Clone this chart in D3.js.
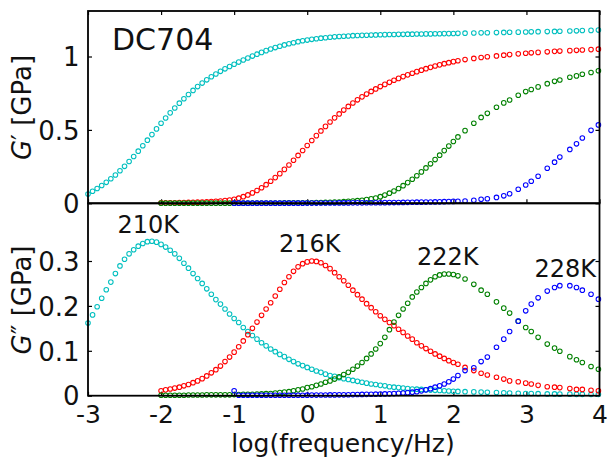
<!DOCTYPE html>
<html><head><meta charset="utf-8">
<script src="https://cdn.jsdelivr.net/npm/d3@7/dist/d3.min.js"></script>
<style>
html,body{margin:0;padding:0;background:#fff;}
svg text{font-family:"DejaVu Sans",sans-serif;fill:#111;}
</style></head>
<body><svg id="c" width="608" height="458"></svg>
<script>
// ---- data ----
const logFreq = [-3,-2.9375,-2.875,-2.8125,-2.75,-2.6875,-2.625,-2.5625,-2.5,-2.4375,-2.375,-2.3125,-2.25,-2.1875,-2.125,-2.0625,
-2,-1.9375,-1.875,-1.8125,-1.75,-1.6875,-1.625,-1.5625,-1.5,-1.4375,-1.375,-1.3125,-1.25,-1.1875,-1.125,-1.0625,
-1,-0.9375,-0.875,-0.8125,-0.75,-0.6875,-0.625,-0.5625,-0.5,-0.4375,-0.375,-0.3125,-0.25,-0.1875,-0.125,-0.0625,
0,0.0625,0.125,0.1875,0.25,0.3125,0.375,0.4375,0.5,0.5625,0.625,0.6875,0.75,0.8125,0.875,0.9375,
1,1.0625,1.125,1.1875,1.25,1.3125,1.375,1.4375,1.5,1.5625,1.625,1.6875,1.75,1.8125,1.875,1.9375,
2,2.0625,2.16,2.28,2.38,2.465,2.59,2.69,2.77,2.888,2.99,3.066,3.16,3.285,3.385,3.457,3.594,3.685,3.765,3.884,3.985];

const temperatures = ["210K","216K","222K","228K"];
const firstIndex = [0,16,16,32];

// G' [GPa]
const gp210 = [0.063,0.082,0.101,0.121,0.143,0.167,0.193,0.222,0.252,0.285,0.319,0.355,0.392,0.430,0.468,0.507,0.545,0.581,0.616,0.649,0.682,0.712,0.741,0.769,0.795,0.819,0.841,0.862,0.881,0.899,0.916,0.932,0.947,
0.962,0.976,0.990,1.003,1.016,1.028,1.040,1.051,1.061,1.070,1.079,1.087,1.094,1.101,1.107,1.112,1.117,1.121,1.125,1.128,1.131,1.134,1.136,1.138,1.140,1.142,1.143,1.144,1.145,1.146,1.147,1.148,1.149,
1.150,1.150,1.151,1.151,1.152,1.152,1.153,1.153,1.154,1.154,1.155,1.155,1.156,1.156,1.157,1.158,
1.159,1.160,1.161,1.162,1.163,1.164,1.165,1.166,1.167,1.168,1.169,1.170,1.171,1.172,1.174,1.175,1.177,1.178,1.180];
const gp216 = [0.003,0.003,0.004,0.004,0.005,0.005,0.006,0.007,0.008,0.009,0.010,0.012,0.014,0.016,0.019,0.022,
0.027,0.035,0.045,0.057,0.071,0.087,0.106,0.127,0.150,0.175,0.202,0.231,0.261,0.293,0.326,0.360,0.394,
0.428,0.461,0.493,0.524,0.554,0.582,0.609,0.635,
0.660,0.683,0.705,0.725,0.744,0.762,0.779,0.795,0.810,0.824,0.838,0.851,0.863,0.875,0.886,0.897,0.907,0.917,0.926,0.935,0.943,0.951,0.958,0.965,0.971,
0.979,0.987,0.993,0.998,1.004,1.009,1.013,1.018,1.022,1.025,1.028,1.032,1.035,1.037,1.040,1.042,1.044,1.047,1.050];
const gp222 = [0.001,0.001,0.001,0.001,0.001,0.001,0.001,0.001,0.001,0.001,0.001,0.001,0.001,0.001,0.001,0.001,
0.001,0.001,0.001,0.001,0.002,0.002,0.002,0.002,0.002,0.002,0.002,0.003,0.003,0.003,0.003,0.003,0.004,
0.004,0.005,0.005,0.006,0.007,0.008,0.009,0.011,
0.013,0.015,0.018,0.021,0.025,0.030,0.036,0.045,0.056,0.069,0.084,0.101,0.120,0.141,0.164,0.188,0.214,0.241,0.269,0.298,0.328,0.359,0.390,0.421,0.452,
0.495,0.545,0.585,0.613,0.654,0.684,0.704,0.736,0.761,0.775,0.793,0.815,0.831,0.840,0.859,0.868,0.879,0.891,0.903];
const gp228 = [0.001,0.001,0.001,0.001,0.001,0.001,0.001,0.001,0.001,0.001,0.001,0.001,0.001,0.001,0.001,0.001,0.0015,
0.0015,0.0015,0.002,0.002,0.002,0.002,0.0025,0.0025,
0.0025,0.003,0.003,0.003,0.0035,0.0035,0.004,0.004,0.0045,0.005,0.005,0.0055,0.006,0.0065,0.007,0.0075,0.008,0.0085,0.009,0.0095,0.010,0.011,0.012,0.013,0.014,
0.016,0.021,0.027,0.031,0.040,0.051,0.065,0.096,0.125,0.150,0.184,0.239,0.280,0.315,0.367,0.405,0.445,0.497,0.534];

// G'' [GPa]
const gpp210 = [0.162,0.180,0.198,0.217,0.236,0.253,0.272,0.289,0.304,0.316,0.325,0.333,0.339,0.343,0.344,0.342,0.337,0.331,0.324,0.316,0.306,0.295,0.284,0.272,0.261,0.250,0.238,0.226,0.214,0.204,0.193,0.182,0.172,0.163,
0.152,0.143,0.134,0.126,0.118,0.111,0.104,0.098,0.092,0.087,0.081,0.076,0.071,0.067,0.063,0.059,0.055,0.052,0.048,0.045,0.043,0.040,0.038,0.036,0.034,0.032,0.030,0.028,0.026,0.025,0.023,0.022,0.020,
0.019,0.018,0.017,0.016,0.015,0.0145,0.014,0.013,0.0125,0.012,0.0115,0.011,0.0105,0.010,0.0095,
0.009,0.0085,0.008,0.0075,0.007,0.0065,0.006,0.0055,0.005,0.005,0.0045,0.004,0.004,0.0035,0.0035,0.003,0.003,0.003,0.003];
const gpp216 = [0.011,0.013,0.015,0.017,0.019,0.022,0.025,0.029,0.033,0.038,0.044,0.051,0.058,0.066,0.076,0.086,
0.097,0.109,0.122,0.136,0.150,0.164,0.179,0.193,0.207,0.222,0.237,0.252,0.265,0.277,0.287,0.294,0.298,
0.300,0.299,0.296,0.290,0.283,0.274,0.265,0.256,
0.246,0.235,0.225,0.215,0.205,0.196,0.187,0.178,0.170,0.163,0.156,0.148,0.141,0.133,0.126,0.118,0.111,0.105,0.099,0.093,0.088,0.083,0.078,0.074,0.070,
0.063,0.056,0.050,0.046,0.041,0.037,0.033,0.031,0.028,0.026,0.023,0.020,0.019,0.018,0.016,0.014,0.014,0.012,0.011];
const gpp222 = [0.001,0.001,0.001,0.001,0.001,0.001,0.0015,0.0015,0.0015,0.0015,0.002,0.002,0.002,0.002,0.002,0.002,
0.0025,0.0025,0.003,0.003,0.003,0.0035,0.004,0.0045,0.005,0.006,0.007,0.008,0.009,0.011,0.013,0.015,0.018,
0.020,0.023,0.026,0.030,0.033,0.037,0.042,0.047,
0.052,0.059,0.066,0.074,0.083,0.093,0.104,0.116,0.130,0.147,0.164,0.179,0.193,0.206,0.220,0.231,0.241,0.250,0.258,0.265,0.269,0.271,0.271,0.270,0.267,
0.260,0.248,0.235,0.226,0.209,0.195,0.184,0.166,0.152,0.143,0.130,0.115,0.106,0.099,0.087,0.080,0.074,0.065,0.059];
const gpp228 = [0.011,0.001,0.001,0.001,0.001,0.001,0.001,0.001,0.001,0.001,0.001,0.001,0.001,0.001,0.001,0.001,0.0012,
0.0013,0.0014,0.0015,0.0016,0.0017,0.0018,0.0019,0.002,
0.0022,0.0024,0.0026,0.0028,0.003,0.0032,0.0034,0.0036,0.0039,0.0042,0.0047,0.0053,0.006,0.0068,0.0078,0.009,0.0108,0.013,0.0157,0.019,0.022,0.026,0.031,0.037,0.045,
0.056,0.062,0.076,0.086,0.108,0.126,0.143,0.166,0.189,0.204,0.218,0.233,0.241,0.245,0.245,0.241,0.235,0.226,0.215];

const xTicks = [-3,-2,-1,0,1,2,3,4];
const xTickLabels = ["-3","-2","-1","0","1","2","3","4"];
const yTopTicks = [0,0.5,1];
const yTopTickLabels = ["0","0.5","1"];
const yBotTicks = [0,0.1,0.2,0.3];
const yBotTickLabels = ["0","0.1","0.2","0.3"];
const colors = ["#00bfbf","#ff0000","#008000","#0000ff"];

// ---- drawing ----
const svg = d3.select("#c");
const L = 88, R = 599.5, T1 = 11, B1 = 203.3, B2 = 395.7;
const x = d3.scaleLinear().domain([-3,4]).range([L,R]);
const yTop = d3.scaleLinear().domain([0,1.31]).range([B1,T1]);
const yBot = d3.scaleLinear().domain([0,0.4285]).range([B2,B1]);

function ticksFor(g, axis){ g.call(axis); g.select(".domain").remove(); g.selectAll("line").attr("stroke","#000").attr("stroke-width",1.2); }

// top panel axes
const tt = svg.append("g").attr("transform",`translate(0,${B1})`);
ticksFor(tt, d3.axisBottom(x).tickValues(xTicks).tickSize(-4).tickFormat(""));
const tt2 = svg.append("g").attr("transform",`translate(0,${T1})`);
ticksFor(tt2, d3.axisTop(x).tickValues(xTicks).tickSize(-4).tickFormat(""));
const tl = svg.append("g").attr("transform",`translate(${L},0)`);
ticksFor(tl, d3.axisLeft(yTop).tickValues(yTopTicks).tickSize(-4).tickFormat((d,i)=>yTopTickLabels[i]));
const tr = svg.append("g").attr("transform",`translate(${R},0)`);
ticksFor(tr, d3.axisRight(yTop).tickValues(yTopTicks).tickSize(-4).tickFormat(""));

// bottom panel axes
const bb = svg.append("g").attr("transform",`translate(0,${B2})`);
ticksFor(bb, d3.axisBottom(x).tickValues(xTicks).tickSize(-4).tickFormat((d,i)=>xTickLabels[i]));
const bl = svg.append("g").attr("transform",`translate(${L},0)`);
ticksFor(bl, d3.axisLeft(yBot).tickValues(yBotTicks).tickSize(-4).tickFormat((d,i)=>yBotTickLabels[i]));
const br = svg.append("g").attr("transform",`translate(${R},0)`);
ticksFor(br, d3.axisRight(yBot).tickValues(yBotTicks).tickSize(-4).tickFormat(""));

svg.selectAll("g text").attr("font-family","DejaVu Sans").attr("font-size",26).attr("fill","#222");
[tl,bl].forEach(g=>g.selectAll("text").attr("x",-8.5).attr("dy",null).attr("dominant-baseline",null)
  .attr("y",9.2));
bb.selectAll("text").attr("y",27.3).attr("dy",null).attr("font-size",25);

// data markers
function drawPanel(arrs, y){
  arrs.forEach((vals,k)=>{
    const pts = vals.map((v,j)=>({f:logFreq[firstIndex[k]+j], v}));
    svg.append("g").selectAll("circle").data(pts).join("circle")
      .attr("cx",d=>x(d.f)).attr("cy",d=>y(d.v)).attr("r",2.3)
      .attr("fill","none").attr("stroke",colors[k]).attr("stroke-width",1.05);
  });
}
drawPanel([gp210,gp216,gp222,gp228], yTop);
drawPanel([gpp210,gpp216,gpp222,gpp228], yBot);

// frames
svg.append("rect").attr("x",L).attr("y",T1).attr("width",R-L).attr("height",B1-T1)
  .attr("fill","none").attr("stroke","#000").attr("stroke-width",1.8);
svg.append("rect").attr("x",L).attr("y",B1).attr("width",R-L).attr("height",B2-B1)
  .attr("fill","none").attr("stroke","#000").attr("stroke-width",1.8);

// labels
svg.append("text").attr("x",112).attr("y",50).attr("font-size",30).attr("fill","#000").text("DC704");
const tempPos = [[117.5,233.3],[279,252],[417,265],[534.5,277.3]];
temperatures.forEach((t,i)=>svg.append("text").attr("x",tempPos[i][0]).attr("y",tempPos[i][1])
  .attr("font-size",24).attr("fill","#000").text(t));

svg.append("text").attr("x",343).attr("y",451.8).attr("text-anchor","middle").attr("font-size",25).attr("fill","#222")
  .text("log(frequency/Hz)");
function ylab(cy, prime){
  const t = svg.append("text").attr("transform",`translate(31,${cy}) rotate(-90)`)
    .attr("text-anchor","middle").attr("font-size",26).attr("fill","#222");
  t.append("tspan").attr("font-style","italic").text("G");
  t.append("tspan").text(prime + " [GPa]");
}
ylab(107.5, "\u2032");
ylab(300, "\u2033");
</script></body></html>
